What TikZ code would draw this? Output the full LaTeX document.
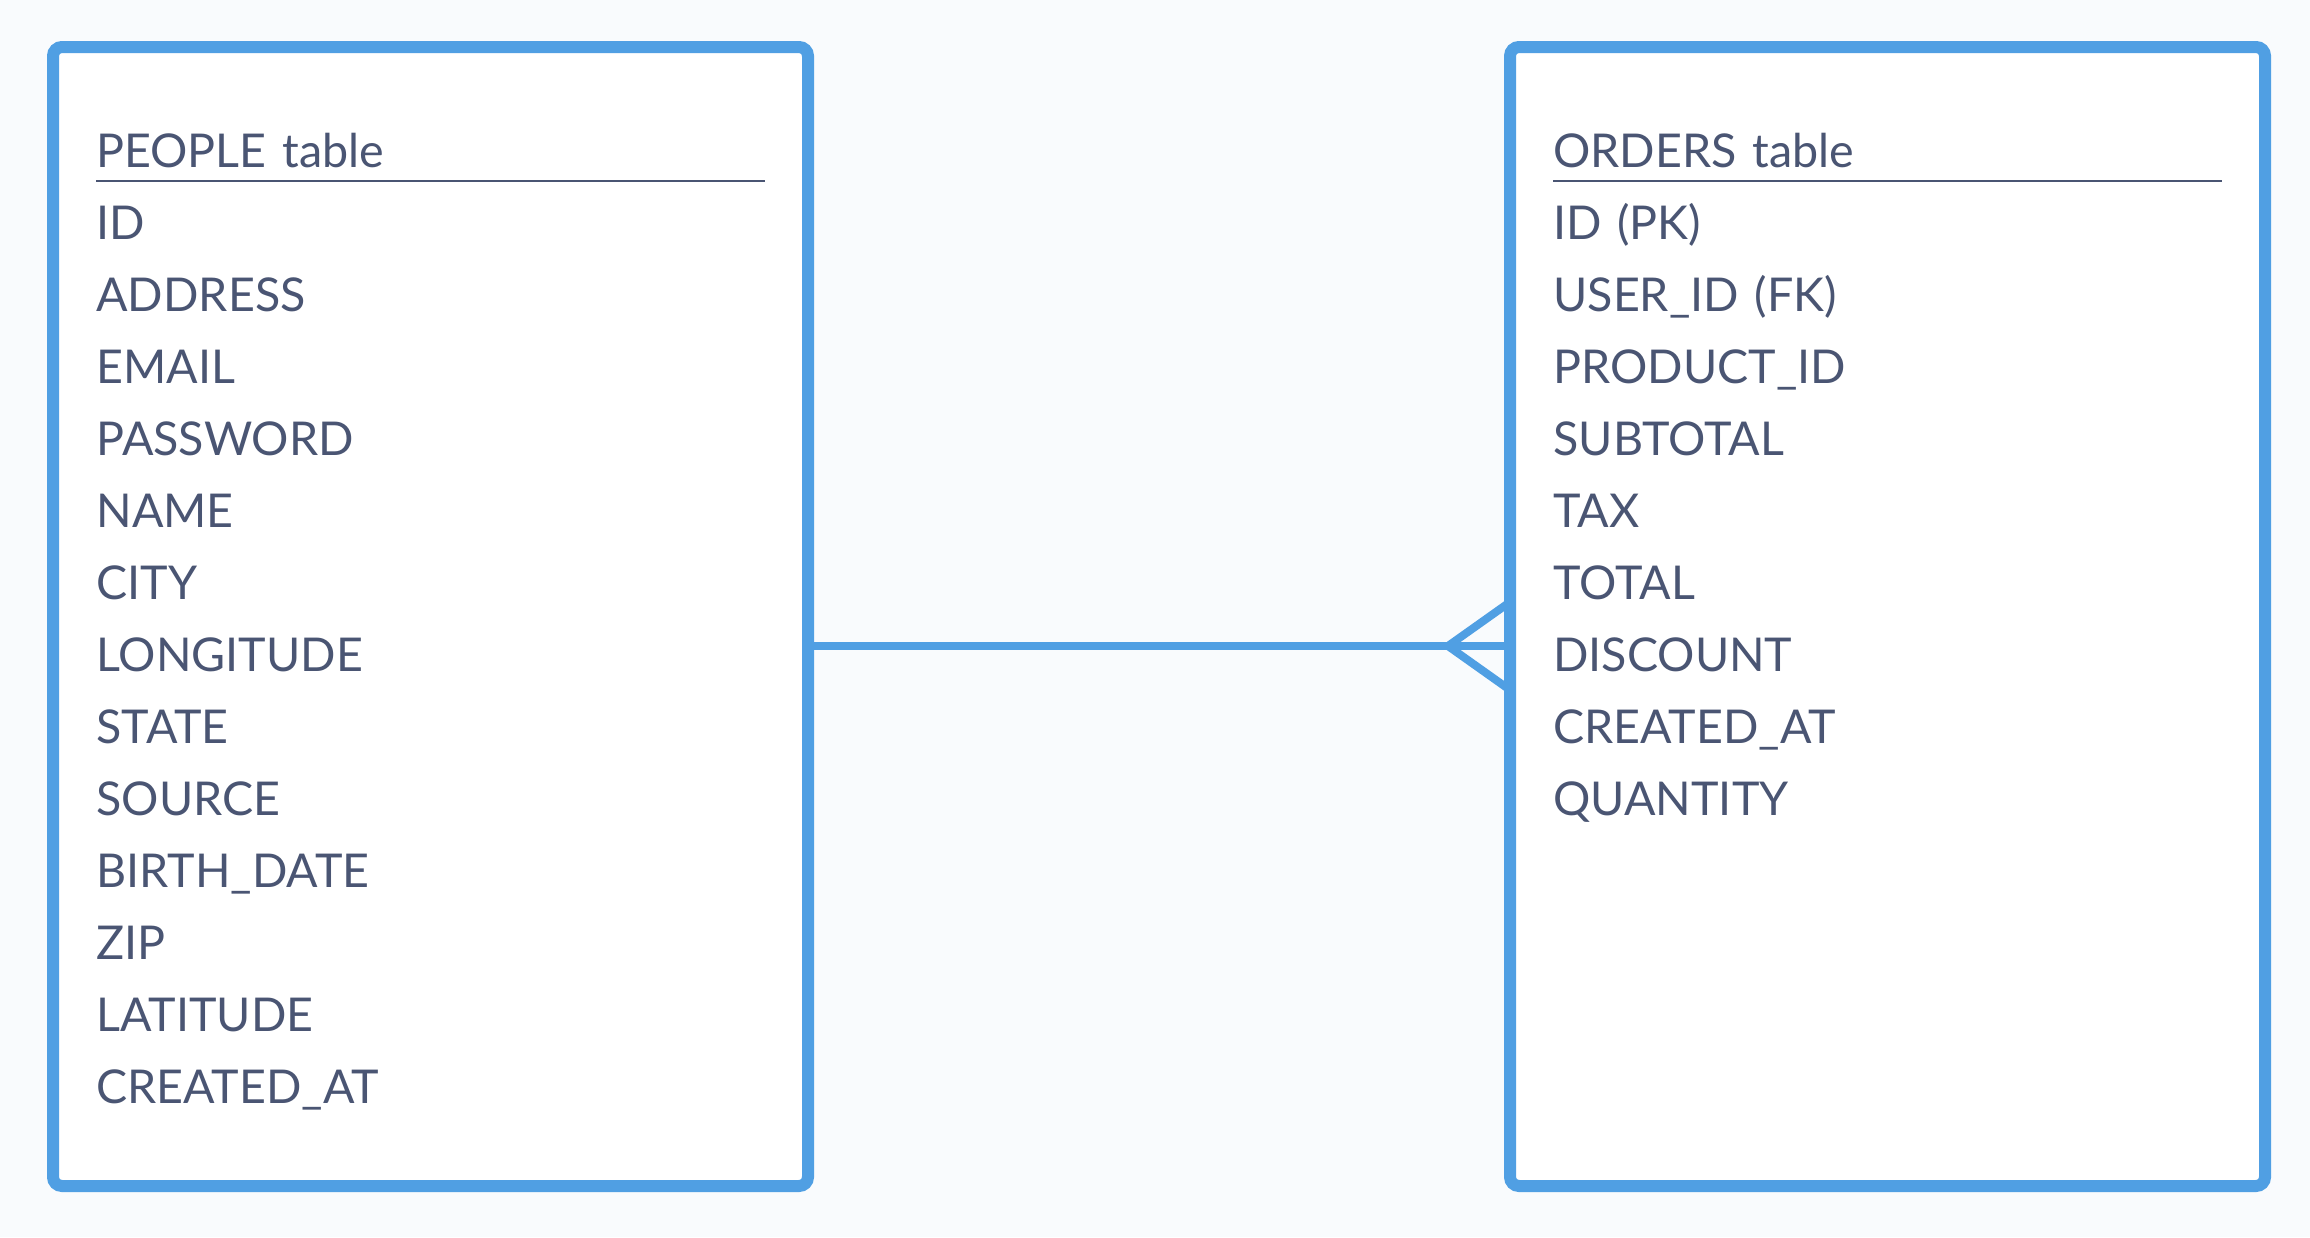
\documentclass[tikz,border=0pt]{standalone}
\usepackage{fontspec}
\setmainfont{Lato}
\usepackage{tikz}
\usetikzlibrary{positioning, calc}

\definecolor{pagebg}{HTML}{F9FBFD}
\definecolor{tableblue}{HTML}{509FE3}
\definecolor{inkslate}{HTML}{4A5573}

\begin{document}
\begin{tikzpicture}[node distance=36pt, font=\fontsize{23.3}{28}\selectfont, text=inkslate]
\tikzstyle{table}=[draw=tableblue, line width=6pt, fill=white, rounded corners=4.5pt, outer sep=0pt, minimum width=377.5pt, minimum height=569.5pt]
\tikzstyle{field}=[text width=334pt, align=left, text height=18pt, text depth=7pt, inner sep=0pt]
\tikzstyle{rule}=[draw=inkslate, line width=1pt]
\tikzstyle{link}=[draw=tableblue, line width=4pt]

\useasboundingbox (0,0) rectangle (1155pt,-618.5pt);
\fill[pagebg] (0,0) rectangle (1155pt,-618.5pt);

\node[table] (people) at (215.25pt,-308.25pt) {};
\node[table] (orders) [right=351pt of people] {};

% people table
\node[field, anchor=base west] (phead) at ($(people.north west)+(21.5pt,-60pt)$) {PEOPLE table};
\draw[rule] (phead.south west) -- (phead.south east);
\node[field] (pid) [below of=phead] {ID};
\node[field] (paddress) [below of=pid] {ADDRESS};
\node[field] (pemail) [below of=paddress] {EMAIL};
\node[field] (ppassword) [below of=pemail] {PASSWORD};
\node[field] (pname) [below of=ppassword] {NAME};
\node[field] (pcity) [below of=pname] {CITY};
\node[field] (plongitude) [below of=pcity] {LONGITUDE};
\node[field] (pstate) [below of=plongitude] {STATE};
\node[field] (psource) [below of=pstate] {SOURCE};
\node[field] (pbirth) [below of=psource] {BIRTH\_DATE};
\node[field] (pzip) [below of=pbirth] {ZIP};
\node[field] (platitude) [below of=pzip] {LATITUDE};
\node[field] (pcreated) [below of=platitude] {CREATED\_AT};

% orders table
\node[field, anchor=base west] (ohead) at ($(orders.north west)+(21.5pt,-60pt)$) {ORDERS table};
\draw[rule] (ohead.south west) -- (ohead.south east);
\node[field] (oid) [below of=ohead] {ID (PK)};
\node[field] (ouser) [below of=oid] {USER\_ID (FK)};
\node[field] (oproduct) [below of=ouser] {PRODUCT\_ID};
\node[field] (osubtotal) [below of=oproduct] {SUBTOTAL};
\node[field] (otax) [below of=osubtotal] {TAX};
\node[field] (ototal) [below of=otax] {TOTAL};
\node[field] (odiscount) [below of=ototal] {DISCOUNT};
\node[field] (ocreated) [below of=odiscount] {CREATED\_AT};
\node[field] (oquantity) [below of=ocreated] {QUANTITY};

% one-to-many link
\coordinate (fork) at ($(orders.west)+(-31pt,-14.75pt)$);
\draw[link] (people.east |- fork) -- (orders.west |- fork);
\draw[link] ($(orders.west |- fork)+(0,22pt)$) -- (fork) -- ($(orders.west |- fork)+(0,-22pt)$);
\end{tikzpicture}
\end{document}
